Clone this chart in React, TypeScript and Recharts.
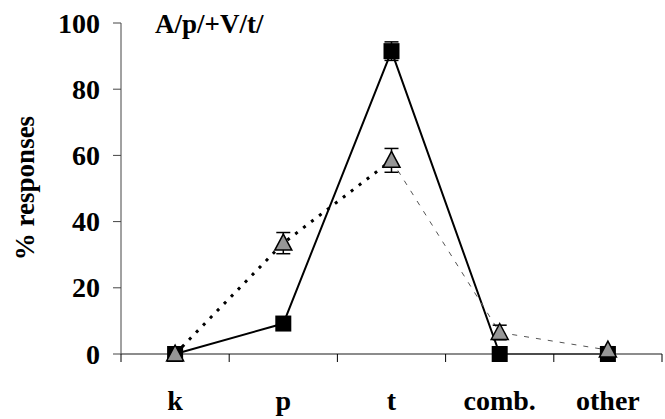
import { LineChart, Line, XAxis, YAxis, ErrorBar } from "recharts";

const categories = ["k", "p", "t", "comb.", "other"];
const squareValues = [0, 9.2, 91.5, 0, 0];
const squareErrors = [0, 1, 2.8, 0, 0];
const triangleValues = [0, 33.5, 58.5, 6.5, 1.2];
const triangleErrors = [0, 3.2, 3.6, 2.2, 1];
const yTicks = [0, 20, 40, 60, 80, 100];

const W = 665;
const H = 419;
const MARGIN = { top: 23, right: 3, left: 0, bottom: 0 };
const Y_AXIS_W = 121;
const X_AXIS_H = 65;
const BAND = (W - MARGIN.right - Y_AXIS_W) / categories.length;
const FONT = "Liberation Serif";
const textStyle = { fontFamily: FONT, fontWeight: 700 };

const data = categories.map((c, i) => ({
  cat: c,
  sq: squareValues[i],
  sqErr: squareErrors[i],
  tri: triangleValues[i],
  triErr: triangleErrors[i],
  // connector pieces: dotted up to "t", thin dashed after
  triA: i <= 2 ? triangleValues[i] : null,
  triB: i >= 2 ? triangleValues[i] : null,
}));

const SquareDot = (props: any) => {
  const { cx, cy } = props;
  if (cx == null || cy == null) return null;
  return <rect x={cx - 8} y={cy - 8} width={16} height={16} fill="#000" />;
};

const TriangleDot = (props: any) => {
  const { cx, cy } = props;
  if (cx == null || cy == null) return null;
  const pts = `${cx},${cy - 9} ${cx - 8.5},${cy + 7} ${cx + 8.5},${cy + 7}`;
  return <polygon points={pts} fill="#969696" stroke="#000" strokeWidth={1.5} />;
};

const YTick = (props: any) => {
  const { x, y, payload } = props;
  return (
    <text x={x} y={y} textAnchor="end" dominantBaseline="central" style={textStyle} fontSize={28} fill="#000">
      {payload.value}
    </text>
  );
};

const XTick = (props: any) => {
  const { x, y, payload, index } = props;
  const last = index === categories.length - 1;
  return (
    <g>
      <line x1={x - BAND / 2} x2={x - BAND / 2} y1={y} y2={y + 8} stroke="#000" strokeWidth={1} />
      {last && (
        <line x1={x + BAND / 2} x2={x + BAND / 2} y1={y} y2={y + 8} stroke="#000" strokeWidth={1} />
      )}
      <text
        x={x}
        y={y + 46}
        textAnchor="middle"
        dominantBaseline="central"
        style={textStyle}
        fontSize={28}
        fill="#000"
      >
        {payload.value}
      </text>
    </g>
  );
};

export default function App() {
  return (
    <div style={{ position: "absolute", left: 0, top: 0, width: W, height: H, background: "#fff" }}>
      <LineChart width={W} height={H} data={data} margin={MARGIN}>
        <XAxis
          dataKey="cat"
          height={X_AXIS_H}
          padding={{ left: BAND / 2, right: BAND / 2 }}
          axisLine={{ stroke: "#666", strokeWidth: 1.5 }}
          tickLine={false}
          tickSize={0}
          tickMargin={0}
          tick={<XTick />}
          interval={0}
        />
        <YAxis
          width={Y_AXIS_W}
          domain={[0, 100]}
          ticks={yTicks}
          interval={0}
          axisLine={{ stroke: "#444", strokeWidth: 1 }}
          tickLine={{ stroke: "#444" }}
          tickSize={8}
          tickMargin={13}
          tick={<YTick />}
          label={{
            content: () => (
              <g>
                <text
                  x={25}
                  y={188}
                  transform="rotate(-90 25 188)"
                  textAnchor="middle"
                  dominantBaseline="central"
                  style={textStyle}
                  fontSize={27}
                  fill="#000"
                >
                  % responses
                </text>
                <text x={155} y={33} style={textStyle} fontSize={27} fill="#000">
                  A/p/+V/t/
                </text>
              </g>
            ),
          }}
        />
        <Line
          dataKey="sq"
          stroke="#000"
          strokeWidth={2}
          dot={<SquareDot />}
          activeDot={false}
          isAnimationActive={false}
        >
          <ErrorBar dataKey="sqErr" width={7} stroke="#000" strokeWidth={1.5} direction="y" isAnimationActive={false} />
        </Line>
        <Line
          dataKey="triA"
          stroke="#000"
          strokeWidth={3}
          strokeDasharray="3 7"
          dot={false}
          activeDot={false}
          isAnimationActive={false}
        />
        <Line
          dataKey="triB"
          stroke="#555"
          strokeWidth={1}
          strokeDasharray="5 7"
          dot={false}
          activeDot={false}
          isAnimationActive={false}
        />
        <Line
          dataKey="tri"
          stroke="none"
          dot={<TriangleDot />}
          activeDot={false}
          isAnimationActive={false}
        >
          <ErrorBar dataKey="triErr" width={7} stroke="#000" strokeWidth={1.5} direction="y" isAnimationActive={false} />
        </Line>
      </LineChart>
    </div>
  );
}
